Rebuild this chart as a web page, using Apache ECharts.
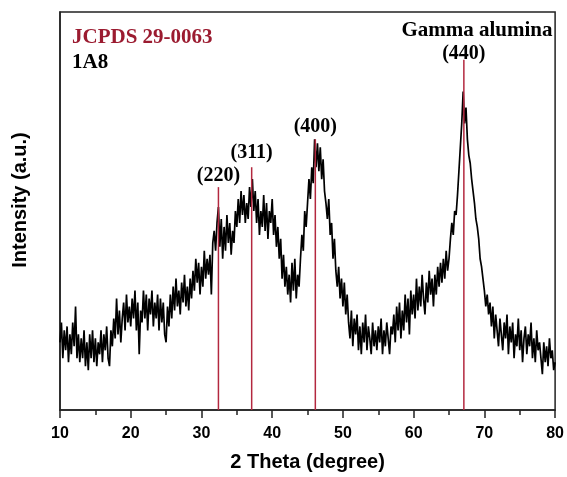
<!DOCTYPE html>
<html>
<head>
<meta charset="utf-8">
<script src="https://cdn.jsdelivr.net/npm/echarts@6/dist/echarts.min.js"></script>
<style>html,body{margin:0;padding:0;background:#fff;}#c{width:567px;height:477px;}</style>
</head>
<body>
<div id="c"></div>
<script>
// Sample pattern: 2θ grid start/step, intensities (a.u.)
const thetaStart = 10;
const thetaStep = 0.2;
const intensity = [
  17, 22, 13, 20, 15,   21, 12, 19, 14, 22,   16, 26, 13, 19, 12,   18, 13, 20, 11, 17,
  10, 19, 13, 20, 12,   18, 11, 17, 14, 20,   12, 19, 15, 21, 13,   11, 20, 16, 23, 18,
  28, 19, 25, 17, 23,   27, 20, 29, 22, 26,   21, 28, 23, 30, 20,   27, 14, 25, 22, 30,
  23, 29, 20, 28, 24,   30, 21, 27, 23, 29,   20, 28, 22, 27, 19,   17, 26, 21, 29, 23,
  31, 25, 33, 26, 30,   24, 32, 27, 34, 26,   31, 25, 33, 28, 35,   30, 38, 32, 37, 29,
  36, 31, 40, 33, 38,   34, 39, 29, 42, 45,   40, 47, 51, 41, 48,   38, 46, 40, 49, 42,
  47, 39, 45, 42, 50,   46, 53, 47, 55, 49,   54, 47, 52, 48, 56,   51, 58, 50, 55, 47,
  53, 44, 50, 46, 54,   45, 52, 43, 50, 47,   53, 44, 49, 41, 46,   38, 43, 33, 39, 31,
  36, 29, 34, 27, 37,   30, 38, 28, 34, 31,   38, 44, 40, 50, 46,   52, 58, 53, 61, 57,
  68, 61, 67, 60, 66,   58, 63, 55, 52, 48,   53, 44, 47, 38, 43,   35, 31, 36, 28, 33,
  26, 32, 24, 29, 22,   18, 25, 16, 23, 19,   24, 15, 21, 14, 22,   17, 24, 15, 21, 18,
  14, 22, 16, 20, 15,   21, 17, 23, 14, 20,   16, 22, 18, 14, 21,   19, 24, 17, 26, 20,
  27, 18, 25, 20, 29,   22, 28, 19, 30, 24,   29, 23, 33, 25, 31,   26, 34, 28, 24, 32,
  27, 35, 29, 33, 26,   34, 29, 36, 31, 37,   32, 38, 33, 40, 35,   38, 43, 47, 44, 50,
  49, 54, 60, 66, 72,   80, 72, 76, 68, 64,   62, 58, 55, 52, 48,   46, 43, 38, 36, 33,
  30, 26, 29, 24, 27,   21, 26, 18, 24, 20,   16, 23, 19, 15, 22,   18, 24, 14, 21, 17,
  22, 13, 19, 16, 23,   15, 20, 12, 18, 21,   14, 19, 16, 22, 13,   18, 12, 20, 15, 17,
  13, 9, 17, 12, 16,    11, 18, 13, 15, 10,   12
];
// JCPDS 29-0063 reference lines
const refTheta = [32.4, 37.1, 46.1, 67.1];
const refHeight = [56, 61, 68, 88];
const refHkl = ['(220)', '(311)', '(400)', '(440)'];
const refLabelGap = [1, 4, 3, -4];
const xTicks = [10, 20, 30, 40, 50, 60, 70, 80];

const curve = intensity.map((v, i) => [+(thetaStart + i * thetaStep).toFixed(2), v]);
const refData = refTheta.map((t, i) => ({
  value: [t, refHeight[i]],
  label: { show: true, position: 'top', distance: refLabelGap[i], formatter: refHkl[i] }
}));

const chart = echarts.init(document.getElementById('c'), null, { renderer: 'canvas' });
const serif = '"Liberation Serif","Times New Roman",serif';
const sans = '"Liberation Sans",Arial,sans-serif';
chart.setOption({
  animation: false,
  backgroundColor: '#fff',
  grid: { left: 60, top: 12, right: 9, bottom: 62, show: true, borderColor: '#222', borderWidth: 1.5 },
  xAxis: {
    type: 'value', min: xTicks[0], max: xTicks[xTicks.length - 1], interval: 10,
    name: '2 Theta (degree)', nameLocation: 'middle', nameGap: 42,
    nameTextStyle: { fontFamily: sans, fontWeight: 'bold', fontSize: 20, color: '#000' },
    axisLine: { lineStyle: { color: '#222', width: 1.5 } },
    axisTick: { show: true, inside: false, length: 8, lineStyle: { color: '#222', width: 1.5 } },
    minorTick: { show: true, splitNumber: 2, length: 5, lineStyle: { color: '#222', width: 1.5 } },
    axisLabel: { margin: 16, fontFamily: sans, fontWeight: 'bold', fontSize: 16, color: '#000' },
    splitLine: { show: false }
  },
  yAxis: {
    type: 'value', min: 0, max: 100,
    name: 'Intensity (a.u.)', nameLocation: 'middle', nameGap: 30,
    nameTextStyle: { fontFamily: sans, fontWeight: 'bold', fontSize: 20, color: '#000', padding: [0, 0, 0, 22] },
    axisLine: { show: true, lineStyle: { color: '#222', width: 1.5 } },
    axisTick: { show: false }, axisLabel: { show: false }, splitLine: { show: false }
  },
  series: [
    {
      type: 'line', data: curve, showSymbol: false, symbol: 'none', z: 2,
      lineStyle: { color: '#000', width: 1.7 }
    },
    {
      type: 'bar', data: refData, barWidth: 1.5, z: 3,
      itemStyle: { color: '#b3283f' },
      label: { fontFamily: serif, fontWeight: 'bold', fontSize: 20, color: '#000' }
    }
  ],
  graphic: [
    { type: 'text', left: 72, top: 27, style: { text: 'JCPDS 29-0063', font: 'bold 21px ' + serif, fill: '#9b1b30' } },
    { type: 'text', left: 72, top: 52, style: { text: '1A8', font: 'bold 21px ' + serif, fill: '#000' } },
    { type: 'text', x: 477, y: 31, style: { text: 'Gamma alumina', font: 'bold 21px ' + serif, fill: '#000', textAlign: 'center', textVerticalAlign: 'middle' } }
  ]
});
</script>
</body>
</html>
